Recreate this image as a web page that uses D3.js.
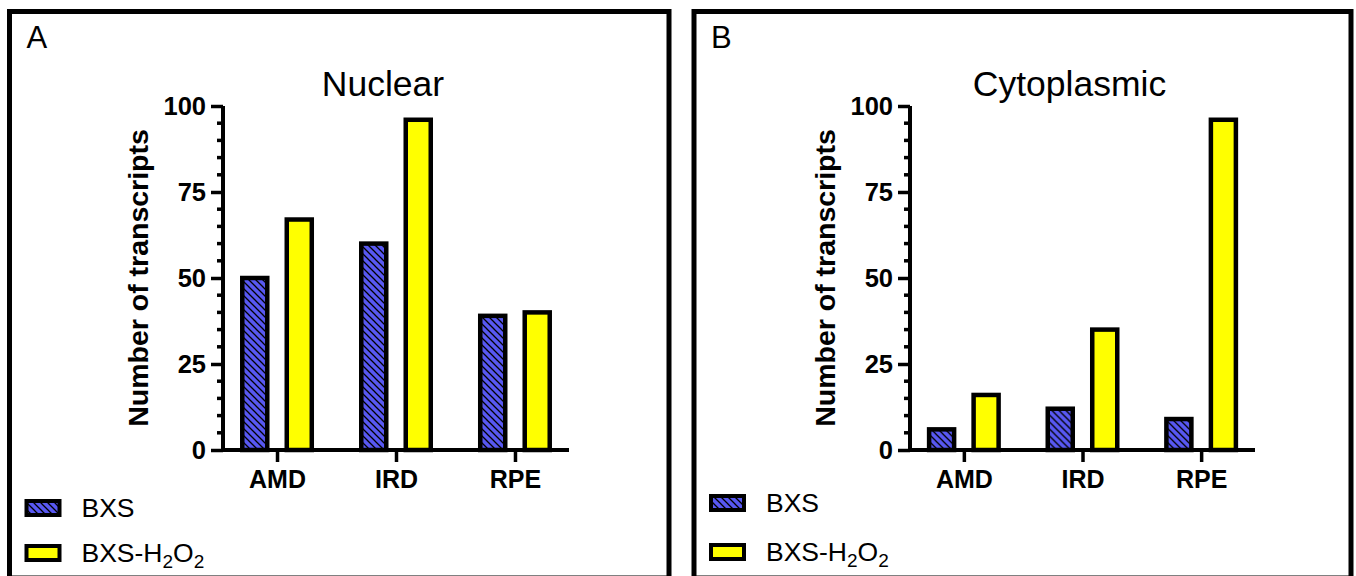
<!DOCTYPE html>
<html>
<head>
<meta charset="utf-8">
<script src="https://cdn.jsdelivr.net/npm/d3@7"></script>
<style>
  body { margin: 0; background: #fff; }
  svg { display: block; font-family: "Liberation Sans", Arial, sans-serif; }
</style>
</head>
<body>
<div id="chart"></div>
<script>
// data
const categories = ["AMD", "IRD", "RPE"];
const seriesNames = ["BXS", "BXS-H2O2"];
const nuclearBXS = [50, 60, 39];
const nuclearH2O2 = [67, 96, 40];
const cytoBXS = [6, 12, 9];
const cytoH2O2 = [16, 35, 96];
const yMajorTicks = [0, 25, 50, 75, 100];
const yMinorTicks = d3.range(0, 101, 5).filter(v => v % 25 !== 0);

const width = 1356, height = 576;
const blue = "#5858f2", yellow = "#ffff00";

const svg = d3.select("#chart").append("svg")
    .attr("width", width)
    .attr("height", height);

// hatch pattern for BXS bars
const pat = svg.append("defs").append("pattern")
    .attr("id", "hatch")
    .attr("patternUnits", "userSpaceOnUse")
    .attr("width", 7)
    .attr("height", 7);
pat.append("rect").attr("width", 7).attr("height", 7).attr("fill", blue);
pat.append("path")
    .attr("d", "M-1,-1 L8,8 M-1,6 L1,8 M6,-1 L8,1")
    .attr("stroke", "#000")
    .attr("stroke-width", 1.3);

const fills = { "BXS": "url(#hatch)", "BXS-H2O2": yellow };

const panels = [
    { letter: "A", title: "Nuclear", bxs: nuclearBXS, h2o2: nuclearH2O2,
      box: [9.5, 11.5, 669, 578], x0: 223, x1: 569, legendY: [499, 544] },
    { letter: "B", title: "Cytoplasmic", bxs: cytoBXS, h2o2: cytoH2O2,
      box: [694, 11.5, 1351, 578], x0: 910, x1: 1255, legendY: [494, 543] }
];

const y = d3.scaleLinear().domain([0, 100]).range([450, 106]);

panels.forEach(p => {
    const g = svg.append("g");
    const [bx0, by0, bx1, by1] = p.box;

    g.append("rect")
        .attr("x", bx0).attr("y", by0)
        .attr("width", bx1 - bx0).attr("height", by1 - by0)
        .attr("fill", "none")
        .attr("stroke", "#000")
        .attr("stroke-width", 5);

    g.append("text")
        .attr("x", bx0 + 17).attr("y", 48)
        .attr("font-size", 31)
        .text(p.letter);

    g.append("text")
        .attr("x", (p.x0 + p.x1) / 2 - 13).attr("y", 96)
        .attr("text-anchor", "middle")
        .attr("font-size", 35.5)
        .text(p.title);

    const x = d3.scalePoint().domain(categories).range([p.x0, p.x1]).padding(0.454);
    const xs = d3.scaleBand().domain(seriesNames).range([-34.75, 34.75]).paddingInner(0.438);

    const rows = categories.map((c, i) => ({ cat: c, "BXS": p.bxs[i], "BXS-H2O2": p.h2o2[i] }));

    g.append("g").selectAll("g")
        .data(rows)
        .join("g")
        .attr("transform", d => `translate(${x(d.cat)},0)`)
        .selectAll("rect")
        .data(d => seriesNames.map(s => ({ s, v: d[s] })))
        .join("rect")
        .attr("x", d => xs(d.s))
        .attr("width", xs.bandwidth())
        .attr("y", d => y(d.v))
        .attr("height", d => y(0) - y(d.v))
        .attr("fill", d => fills[d.s])
        .attr("stroke", "#000")
        .attr("stroke-width", 4.5);

    // y axis
    const ya = g.append("g").attr("transform", `translate(${p.x0},0)`);
    ya.call(d3.axisLeft(y).tickValues(yMajorTicks).tickSize(12).tickPadding(5))
        .call(a => a.select(".domain").attr("stroke-width", 4).attr("d", `M0,${y(0)}V${y(100)}`))
        .call(a => a.selectAll(".tick line").attr("stroke-width", 3.5))
        .call(a => a.selectAll(".tick text")
            .attr("font-size", 25.5).attr("font-weight", "bold")
            .attr("font-family", "Liberation Sans, Arial, sans-serif"));
    ya.selectAll(".minor")
        .data(yMinorTicks)
        .join("line")
        .attr("class", "minor")
        .attr("x1", -6).attr("x2", 0)
        .attr("y1", d => y(d)).attr("y2", d => y(d))
        .attr("stroke", "#000")
        .attr("stroke-width", 3.5);

    // x axis
    g.append("g")
        .attr("transform", `translate(0,${y(0)})`)
        .call(d3.axisBottom(x).tickSize(12).tickPadding(8))
        .call(a => a.select(".domain").attr("stroke-width", 4).attr("d", `M${p.x0},0H${p.x1}`))
        .call(a => a.selectAll(".tick line").attr("stroke-width", 3.5))
        .call(a => a.selectAll(".tick text")
            .attr("font-size", 25).attr("font-weight", "bold")
            .attr("font-family", "Liberation Sans, Arial, sans-serif"));

    // y axis title
    g.append("text")
        .attr("transform", `translate(${p.x0 - 75},${(y(0) + y(100)) / 2}) rotate(-90)`)
        .attr("text-anchor", "middle")
        .attr("font-size", 28.5)
        .attr("font-weight", "bold")
        .text("Number of transcripts");

    // legend
    const lg = g.append("g");
    seriesNames.forEach((s, i) => {
        const ly = p.legendY[i];
        lg.append("rect")
            .attr("x", bx0 + 17).attr("y", ly + 2)
            .attr("width", 33).attr("height", 14)
            .attr("fill", fills[s])
            .attr("stroke", "#000")
            .attr("stroke-width", 4);
        const t = lg.append("text")
            .attr("x", bx0 + 72).attr("y", ly + 18)
            .attr("font-size", 26.5);
        if (s === "BXS-H2O2") {
            t.append("tspan").text("BXS-H");
            t.append("tspan").attr("font-size", 19).attr("dy", 6).text("2");
            t.append("tspan").attr("dy", -6).text("O");
            t.append("tspan").attr("font-size", 19).attr("dy", 6).text("2");
        } else {
            t.text(s);
        }
    });
});
</script>
</body>
</html>
